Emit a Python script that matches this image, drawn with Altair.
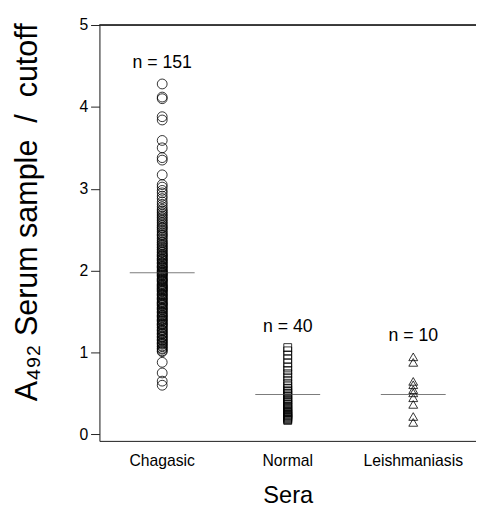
import altair as alt
import pandas as pd

categories = ["Chagasic", "Normal", "Leishmaniasis"]

chagasic = [
    0.60, 0.65, 0.75, 0.88,
    1.01, 1.02, 1.04, 1.05, 1.07, 1.08, 1.10, 1.11, 1.12, 1.14, 1.15, 1.16, 1.18, 1.19,
    1.20, 1.22, 1.23, 1.24, 1.26, 1.27, 1.28, 1.30, 1.31, 1.33, 1.34, 1.35, 1.36, 1.38, 1.39,
    1.40, 1.41, 1.43, 1.44, 1.45, 1.46, 1.48, 1.49, 1.50, 1.52, 1.53, 1.54, 1.55, 1.57, 1.58, 1.59,
    1.60, 1.61, 1.62, 1.64, 1.65, 1.66, 1.67, 1.69, 1.70, 1.71, 1.72, 1.74, 1.75, 1.76, 1.77, 1.78, 1.79,
    1.80, 1.81, 1.82, 1.83, 1.84, 1.86, 1.87, 1.88, 1.89, 1.90, 1.91, 1.93, 1.94, 1.95, 1.96, 1.97, 1.98, 1.99,
    2.00, 2.01, 2.03, 2.04, 2.05, 2.06, 2.08, 2.09, 2.10, 2.12, 2.13, 2.14, 2.15, 2.17, 2.18, 2.19,
    2.20, 2.22, 2.23, 2.25, 2.26, 2.28, 2.29, 2.31, 2.32, 2.34, 2.35, 2.37, 2.39,
    2.41, 2.43, 2.44, 2.46, 2.48, 2.50, 2.52, 2.53, 2.55, 2.57, 2.59,
    2.61, 2.63, 2.65, 2.67, 2.69, 2.71, 2.73, 2.75, 2.78,
    2.81, 2.84, 2.88, 2.91, 2.95, 2.98,
    3.02, 3.05, 3.17, 3.35, 3.38, 3.50, 3.59, 3.84, 3.88, 4.10, 4.12, 4.28,
]

normal = [
    1.06, 1.02, 0.97, 0.92, 0.87, 0.82, 0.78, 0.74, 0.70, 0.66,
    0.62, 0.59, 0.56, 0.54, 0.52, 0.50, 0.48, 0.46, 0.44, 0.42,
    0.41, 0.39, 0.37, 0.36, 0.34, 0.33, 0.31, 0.30, 0.28, 0.27,
    0.26, 0.25, 0.24, 0.23, 0.22, 0.21, 0.20, 0.19, 0.18, 0.17,
]

leishmaniasis = [0.947, 0.879, 0.647, 0.606, 0.546, 0.507, 0.447, 0.366, 0.218, 0.146]

group_means = [1.975, 0.486, 0.486]

FONT = "Liberation Sans"

rows = []
for cat, vals in zip(categories, [chagasic, normal, leishmaniasis]):
    for v in vals:
        rows.append({"Sera": cat, "value": v})
df = pd.DataFrame(rows)

summary = pd.DataFrame({
    "Sera": categories,
    "mean": group_means,
    "top": [max(chagasic), max(normal), max(leishmaniasis)],
    "label": [f"n = {len(v)}" for v in [chagasic, normal, leishmaniasis]],
})

x_enc = alt.X(
    "Sera:N",
    sort=categories,
    scale=alt.Scale(domain=categories, paddingInner=0, paddingOuter=0),
    axis=alt.Axis(
        title="Sera", titleFontSize=24, titleFontWeight="normal", titlePadding=16,
        labelFontSize=16, labelAngle=0, labelPadding=12, ticks=False,
        domainColor="#222", labelColor="black", titleColor="black",
        labelFont=FONT, titleFont=FONT,
    ),
)
y_scale = alt.Scale(domain=[-0.08, 5], nice=False, zero=False)
y_axis = alt.Axis(
    title="A\u2084\u2089\u2082 Serum sample\u00a0 /\u00a0 cutoff",
    titleFontSize=31, titleFontWeight="normal", titleFont=FONT, titleColor="black",
    titleAngle=-90, titleX=-64, titleY=190, titleAlign="center", titleBaseline="alphabetic",
    values=[0, 1, 2, 3, 4, 5], format="d", tickSize=9, tickColor="#222", domainColor="#222",
    labelFontSize=16, labelFont=FONT, labelColor="black", labelPadding=3, grid=False,
)

base = alt.Chart(df)

def pts(cat, shape, size):
    return base.transform_filter(alt.datum.Sera == cat).mark_point(
        shape=shape, size=size, filled=False, color="black", strokeWidth=0.8, opacity=1
    ).encode(x=x_enc, y=alt.Y("value:Q", scale=y_scale, axis=y_axis))

circles = pts("Chagasic", "circle", 100)
squares = pts("Normal", "square", 64)
triangles = pts("Leishmaniasis", "triangle-up", 81)

means = alt.Chart(summary).mark_tick(size=66, thickness=1, color="#444").encode(
    x=x_enc, y=alt.Y("mean:Q", scale=y_scale, axis=y_axis)
)

labels = alt.Chart(summary).mark_text(
    fontSize=18, font=FONT, color="black", baseline="alphabetic", dy=-16
).encode(x=x_enc, y=alt.Y("top:Q", scale=y_scale, axis=y_axis), text="label:N")

top_line = alt.Chart(summary).mark_rule(color="#222", strokeWidth=1).encode(
    y=alt.datum(5), x=alt.value(0), x2=alt.value(383)
)

chart = alt.layer(circles, squares, triangles, means, labels, top_line).properties(
    width=383, height=423,
    autosize=alt.AutoSizeParams(type="none"),
    padding={"left": 93, "top": 13, "right": 0, "bottom": 68},
).configure_view(stroke=None).configure(font=FONT)

chart.save("out.html", embed_options={"renderer": "svg", "actions": False})
